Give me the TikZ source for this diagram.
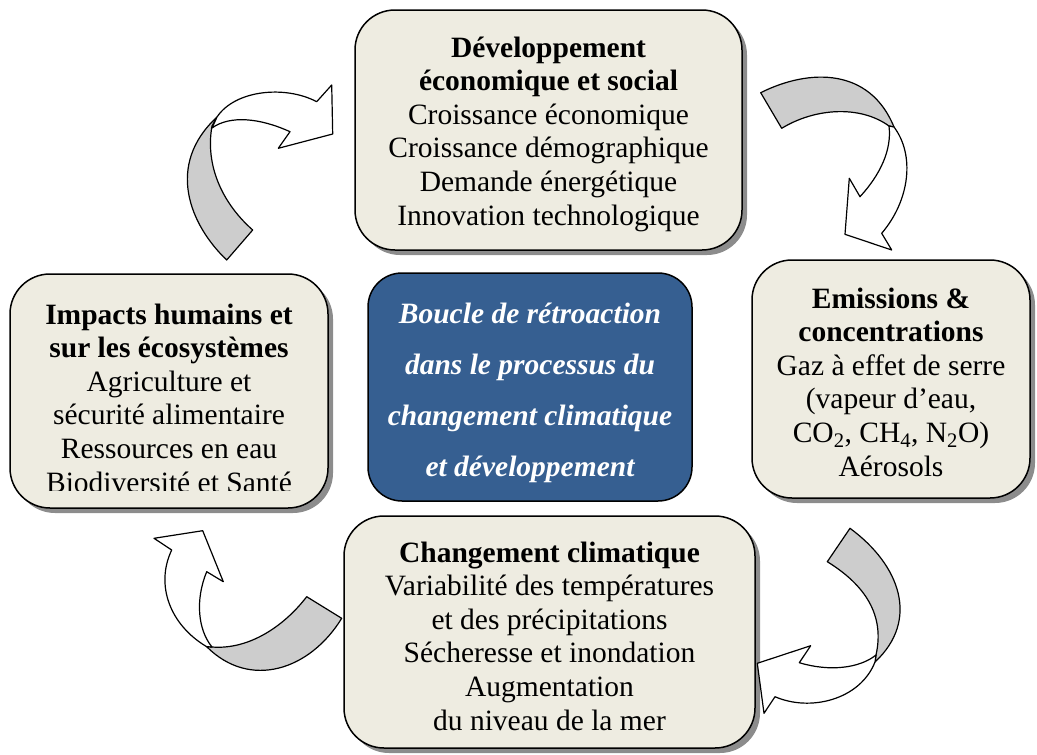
\documentclass[tikz,border=0pt]{standalone}
\usepackage{fontspec}
\setmainfont{Liberation Serif}
\usetikzlibrary{shadows}
\definecolor{boxfill}{HTML}{EEECE1}
\definecolor{centerfill}{HTML}{365F91}
\definecolor{ribbongray}{HTML}{CDCDCD}
\definecolor{shadowgray}{HTML}{8C8C8C}
\begin{document}
\begin{tikzpicture}[x=1pt,y=-1pt,
  infobox/.style={draw=black, line width=1.5pt, rounded corners=40pt, fill=boxfill,
    drop shadow={shadow xshift=5pt, shadow yshift=-5pt, fill=shadowgray, opacity=1},
    inner sep=0pt},
  infotext/.style={align=center, inner sep=0pt, font=\fontsize{29.5}{33.6}\selectfont},
  centerbox/.style={draw=black, line width=1.5pt, rounded corners=34pt, fill=centerfill, inner sep=0pt},
  centertext/.style={text=white, align=center, inner sep=0pt,
    font=\fontsize{29.5}{51}\selectfont\bfseries\itshape},
  ribbonback/.style={draw=black, fill=ribbongray, line width=1.2pt, line join=round},
  ribbonfront/.style={draw=black, fill=white, line width=1.2pt, line join=round}]
\useasboundingbox (0,0) rectangle (1037,755);

% boxes
\node[infobox, minimum width=387pt, minimum height=240pt] (dev) at (548.5,130) {};
\node[infotext] (devtext) at ([yshift=-4pt]dev.center)
  {\textbf{Développement}\\\textbf{économique et social}\\Croissance économique\\Croissance démographique\\Demande énergétique\\Innovation technologique};

\node[infobox, minimum width=318pt, minimum height=234pt] (imp) at (169,391) {};
\begin{scope}
\clip (10,270) rectangle (330,490);
\node[infotext] (imptext) at ([yshift=-7pt]imp.center)
  {\textbf{Impacts humains et}\\\textbf{sur les écosystèmes}\\Agriculture et\\sécurité alimentaire\\Ressources en eau\\Biodiversité et Santé};
\end{scope}

\node[centerbox, minimum width=324pt, minimum height=228pt] (loop) at (530,387) {};
\node[centertext] (looptext) at ([yshift=-6pt]loop.center)
  {Boucle de rétroaction\\dans le processus du\\changement climatique\\et développement};

\node[infobox, minimum width=278pt, minimum height=238pt] (emi) at (891,379) {};
\node[infotext] (emitext) at ([yshift=-3pt]emi.center)
  {\textbf{Emissions \&}\\\textbf{concentrations}\\Gaz à effet de serre\\(vapeur d’eau,\\CO\textsubscript{2}, CH\textsubscript{4}, N\textsubscript{2}O)\\Aérosols};

\node[infobox, minimum width=411pt, minimum height=232pt] (cc) at (549.5,632) {};
\node[infotext] (cctext) at ([yshift=-4pt]cc.center)
  {\textbf{Changement climatique}\\Variabilité des températures\\et des précipitations\\Sécheresse et inondation\\Augmentation\\du niveau de la mer};

% arrow 1 : impacts -> developpement (top-left)
\draw[ribbonback] (226.7,260) .. controls (190,225) and (165,165) .. (217,117)
  -- (212,126) .. controls (205,165) and (222,203) .. (252.7,230) -- cycle;
\draw[ribbonfront] (217,117) .. controls (235,90) and (285,85) .. (316.7,101.7)
  -- (331.7,85) -- (332.7,134) -- (278.3,148.3) -- (290,131.7)
  .. controls (260,118) and (230,115) .. (212,128) -- cycle;

% arrow 2 : developpement -> emissions (top-right)
\draw[ribbonback] (760.7,92.7) .. controls (810,68) and (870,68) .. (894,127)
  -- (889,126) .. controls (860,105) and (815,108) .. (781.7,128.3) -- cycle;
\draw[ribbonfront] (894,127) .. controls (915,155) and (910,200) .. (881.7,233.3)
  -- (891.7,250) -- (845,234.3) -- (849.3,178.3) -- (860,196.7)
  .. controls (880,175) and (892,150) .. (889,126) -- cycle;

% arrow 3 : emissions -> changement (bottom-right)
\draw[ribbonback] (827.3,561.7) -- (850,528.3) .. controls (900,565) and (920,620) .. (875,662)
  -- (876,655) .. controls (885,615) and (865,585) .. (827.3,561.7) -- cycle;
\draw[ribbonfront] (875,662) .. controls (860,700) and (810,712) .. (775,696.7)
  -- (764,713.3) -- (757.3,663.3) -- (810.7,645.7) -- (799.3,662.7)
  .. controls (830,672) and (860,668) .. (876,655) -- cycle;

% arrow 4 : changement -> impacts (bottom-left)
\draw[ribbonback] (306.7,596.7) -- (341.7,618.3) .. controls (310,670) and (250,690) .. (206.7,646.7)
  -- (212,647) .. controls (250,650) and (285,625) .. (306.7,596.7) -- cycle;
\draw[ribbonfront] (206.7,646.7) .. controls (170,625) and (155,585) .. (171.7,550)
  -- (154,538.3) -- (202.7,530.7) -- (223.3,581.7) -- (206.7,571.7)
  .. controls (195,600) and (198,630) .. (212,647) -- cycle;
\end{tikzpicture}
\end{document}
